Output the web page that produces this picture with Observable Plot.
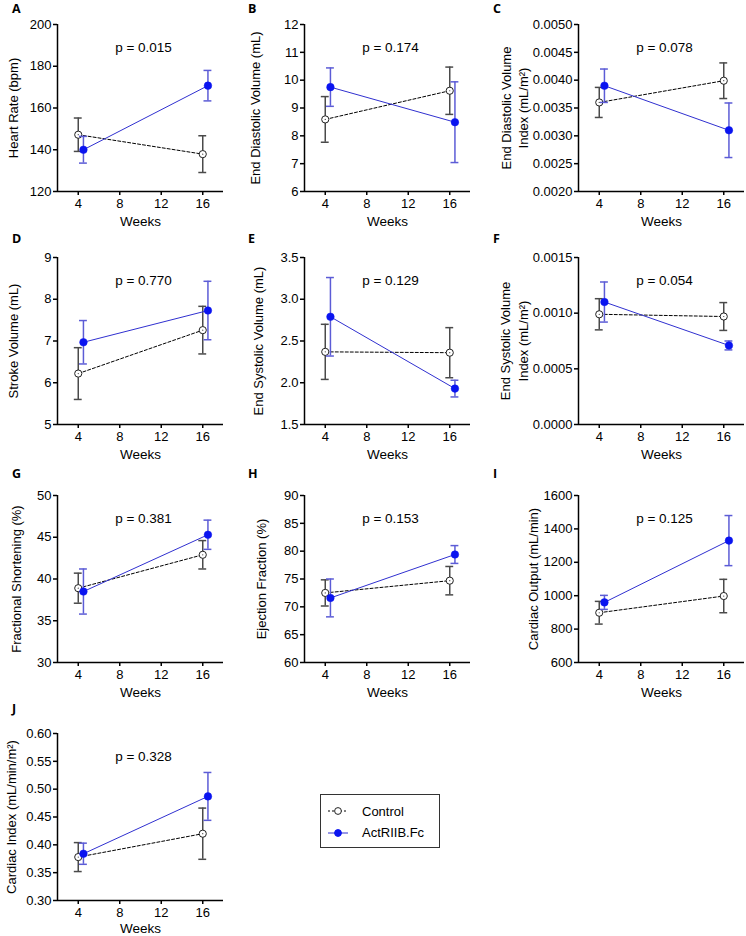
<!DOCTYPE html>
<html><head><meta charset="utf-8">
<script src="https://cdn.jsdelivr.net/npm/d3@7"></script>
<script src="https://cdn.jsdelivr.net/npm/@observablehq/plot@0.6"></script>
<style>
body{margin:0;background:#fff;font-family:"Liberation Sans",Arial,sans-serif;}
#root{position:relative;width:746px;height:936px;overflow:hidden;background:#fff;}
.panel{position:absolute;}
.letter{position:absolute;font-family:"Open Sans","Liberation Sans",sans-serif;font-weight:700;font-size:12.5px;line-height:1;color:#000;}
.legend{position:absolute;left:320px;top:794px;width:118px;height:52px;border:1px solid #333;font-size:13px;color:#000;}
.legend .row{position:absolute;left:6px;height:16px;display:flex;align-items:center;}
.legend svg{margin-right:13px;}
</style></head><body><div id="root"></div>
<script>
const panelIds = ["A","B","C","D","E","F","G","H","I","J"];
const yLabels = [
  "Heart Rate (bpm)",
  "End Diastolic Volume (mL)",
  "End Diastolic Volume\nIndex (mL/m²)",
  "Stroke Volume (mL)",
  "End Systolic Volume (mL)",
  "End Systolic Volume\nIndex (mL/m²)",
  "Fractional Shortening (%)",
  "Ejection Fraction (%)",
  "Cardiac Output (mL/min)",
  "Cardiac Index (mL/min/m²)"
];
const pValues = ["0.015","0.174","0.078","0.770","0.129","0.054","0.381","0.153","0.125","0.328"];
const weeks = [4, 16];
const xTicks = [4, 8, 12, 16];
const groups = ["Control", "ActRIIB.Fc"];
const controlMean = [[147.2,137.9],[8.59,9.62],[0.00360,0.00399],[6.22,7.26],[2.37,2.36],[0.00099,0.00097],[38.9,42.9],[72.5,74.7],[898,998],[0.378,0.420]];
const controlSEM  = [[8.0,8.8],[0.82,0.85],[0.00027,0.00032],[0.62,0.57],[0.33,0.30],[0.00014,0.000125],[1.8,1.7],[2.35,2.55],[68,100],[0.026,0.046]];
const actMean     = [[140.0,170.7],[9.75,8.49],[0.00390,0.00310],[6.97,7.73],[2.79,1.93],[0.00110,0.00071],[38.5,45.3],[71.6,79.4],[960,1330],[0.384,0.487]];
const actSEM      = [[6.4,7.3],[0.69,1.45],[0.00030,0.00049],[0.52,0.70],[0.47,0.10],[0.00018,0.00004],[2.7,1.75],[3.4,1.6],[42,150],[0.019,0.043]];
const yDomains = [[120,200],[6,12],[0.002,0.005],[5,9],[1.5,3.5],[0,0.0015],[30,50],[60,90],[600,1600],[0.30,0.60]];
const yTicks = [
  [120,140,160,180,200],
  [6,7,8,9,10,11,12],
  [0.002,0.0025,0.003,0.0035,0.004,0.0045,0.005],
  [5,6,7,8,9],
  [1.5,2.0,2.5,3.0,3.5],
  [0,0.0005,0.001,0.0015],
  [30,35,40,45,50],
  [60,65,70,75,80,85,90],
  [600,800,1000,1200,1400,1600],
  [0.30,0.35,0.40,0.45,0.50,0.55,0.60]
];
const yTickFormats = ["d","d",".4f","d",".1f",".4f","d","d","d",".2f"];

// layout
const colAxisX = [56.5, 304, 578.3];
const rowTop = [24, 256.5, 495, 733];
const letterX = [12, 248, 493];
const letterY = [3, 233, 468, 703];
const weeksDy = [30, 30, 30, 28];
const yLabelGap = [45, 50, 64.5, 45, 47, 65, 42, 44, 46, 47];
const ML = 80, MT = 24, MB = 40, PW = 166, PH = 167;
const ACT_SHIFT = 0.5, CAP = 0.38;
const ctrlColor = "#000", ctrlErr = "#4a4a4a";
const actLine = "#3030d0", actDot = "#0a14f0", actErr = "#5c5cd6";

const root = document.getElementById("root");

panelIds.forEach((id, i) => {
  const col = i % 3, row = Math.floor(i / 3);
  const ctrl = weeks.map((w, j) => ({x: w, y: controlMean[i][j], e: controlSEM[i][j]}));
  const act = weeks.map((w, j) => ({x: w + ACT_SHIFT, y: actMean[i][j], e: actSEM[i][j]}));
  const [y0, y1] = yDomains[i];
  const fmt = d3.format(yTickFormats[i]);
  const errMarks = (data, color) => [
    Plot.ruleX(data, {x: "x", y1: d => d.y - d.e, y2: d => d.y + d.e, stroke: color, strokeWidth: 1.5}),
    Plot.ruleY(data, {y: d => d.y + d.e, x1: d => d.x - CAP, x2: d => d.x + CAP, stroke: color, strokeWidth: 1.5}),
    Plot.ruleY(data, {y: d => d.y - d.e, x1: d => d.x - CAP, x2: d => d.x + CAP, stroke: color, strokeWidth: 1.5})
  ];
  const chart = Plot.plot({
    width: ML + PW,
    height: MT + PH + MB,
    marginLeft: ML, marginRight: 0, marginTop: MT, marginBottom: MB,
    style: {fontFamily: '"Liberation Sans", Arial, sans-serif', fontSize: "13px", background: "transparent", overflow: "visible", color: "#000"},
    x: {domain: [2, 18]},
    y: {domain: [y0, y1]},
    marks: [
      Plot.axisX({ticks: xTicks, tickSize: 4, tickPadding: 3, fontSize: 13, label: null, strokeWidth: 1.5, tickFormat: d3.format("d")}),
      Plot.axisY({ticks: yTicks[i], tickSize: 4, tickPadding: 2, fontSize: 13, label: null, strokeWidth: 1.5, tickFormat: fmt}),
      Plot.ruleX([2], {stroke: "#000", strokeWidth: 1.5}),
      Plot.ruleY([y0], {stroke: "#000", strokeWidth: 1.5}),
      Plot.text(["Weeks"], {text: d => d, frameAnchor: "bottom", lineAnchor: "middle", dy: weeksDy[row], fontSize: 13.5}),
      Plot.text([yLabels[i]], {text: d => d, frameAnchor: "left", textAnchor: "middle", lineAnchor: "middle", rotate: -90, dx: -yLabelGap[i], fontSize: 13, lineHeight: 1.35}),
      Plot.text(["p = " + pValues[i]], {text: d => d, frameAnchor: "top", lineAnchor: "middle", dy: 23, dx: 3, fontSize: 13.5}),
      ...errMarks(ctrl, ctrlErr),
      Plot.line(ctrl, {x: "x", y: "y", stroke: ctrlColor, strokeWidth: 1, strokeDasharray: "3,2"}),
      Plot.dot(ctrl, {x: "x", y: "y", r: 3.6, fill: "#fff", stroke: "#222", strokeWidth: 1}),
      Plot.dot(ctrl, {x: "x", y: "y", r: 0.6, fill: "#333", stroke: null}),
      ...errMarks(act, actErr),
      Plot.line(act, {x: "x", y: "y", stroke: actLine, strokeWidth: 1}),
      Plot.dot(act, {x: "x", y: "y", r: 3.8, fill: actDot, stroke: actDot, strokeWidth: 0.5})
    ]
  });
  const div = document.createElement("div");
  div.className = "panel";
  div.style.left = (colAxisX[col] - ML) + "px";
  div.style.top = (rowTop[row] - MT) + "px";
  div.appendChild(chart);
  root.appendChild(div);
  const lab = document.createElement("div");
  lab.className = "letter";
  lab.textContent = id;
  lab.style.left = letterX[col] + "px";
  lab.style.top = letterY[row] + "px";
  root.appendChild(lab);
});

// legend
const legend = document.createElement("div");
legend.className = "legend";
groups.forEach((g, k) => {
  const r = document.createElement("div");
  r.className = "row";
  r.style.top = (8 + k * 21.5) + "px";
  const ns = "http://www.w3.org/2000/svg";
  const s = document.createElementNS(ns, "svg");
  s.setAttribute("width", "22"); s.setAttribute("height", "12");
  const ln = document.createElementNS(ns, "line");
  ln.setAttribute("x1", "1"); ln.setAttribute("x2", "21"); ln.setAttribute("y1", "6"); ln.setAttribute("y2", "6");
  ln.setAttribute("stroke", k === 0 ? "#000" : actLine);
  if (k === 0) ln.setAttribute("stroke-dasharray", "2,2");
  s.appendChild(ln);
  const c = document.createElementNS(ns, "circle");
  c.setAttribute("cx", "11"); c.setAttribute("cy", "6"); c.setAttribute("r", "3.4");
  c.setAttribute("fill", k === 0 ? "#fff" : actDot);
  c.setAttribute("stroke", k === 0 ? "#222" : actDot);
  s.appendChild(c);
  r.appendChild(s);
  const t = document.createElement("span");
  t.textContent = g;
  r.appendChild(t);
  legend.appendChild(r);
});
root.appendChild(legend);
</script>
</body></html>
